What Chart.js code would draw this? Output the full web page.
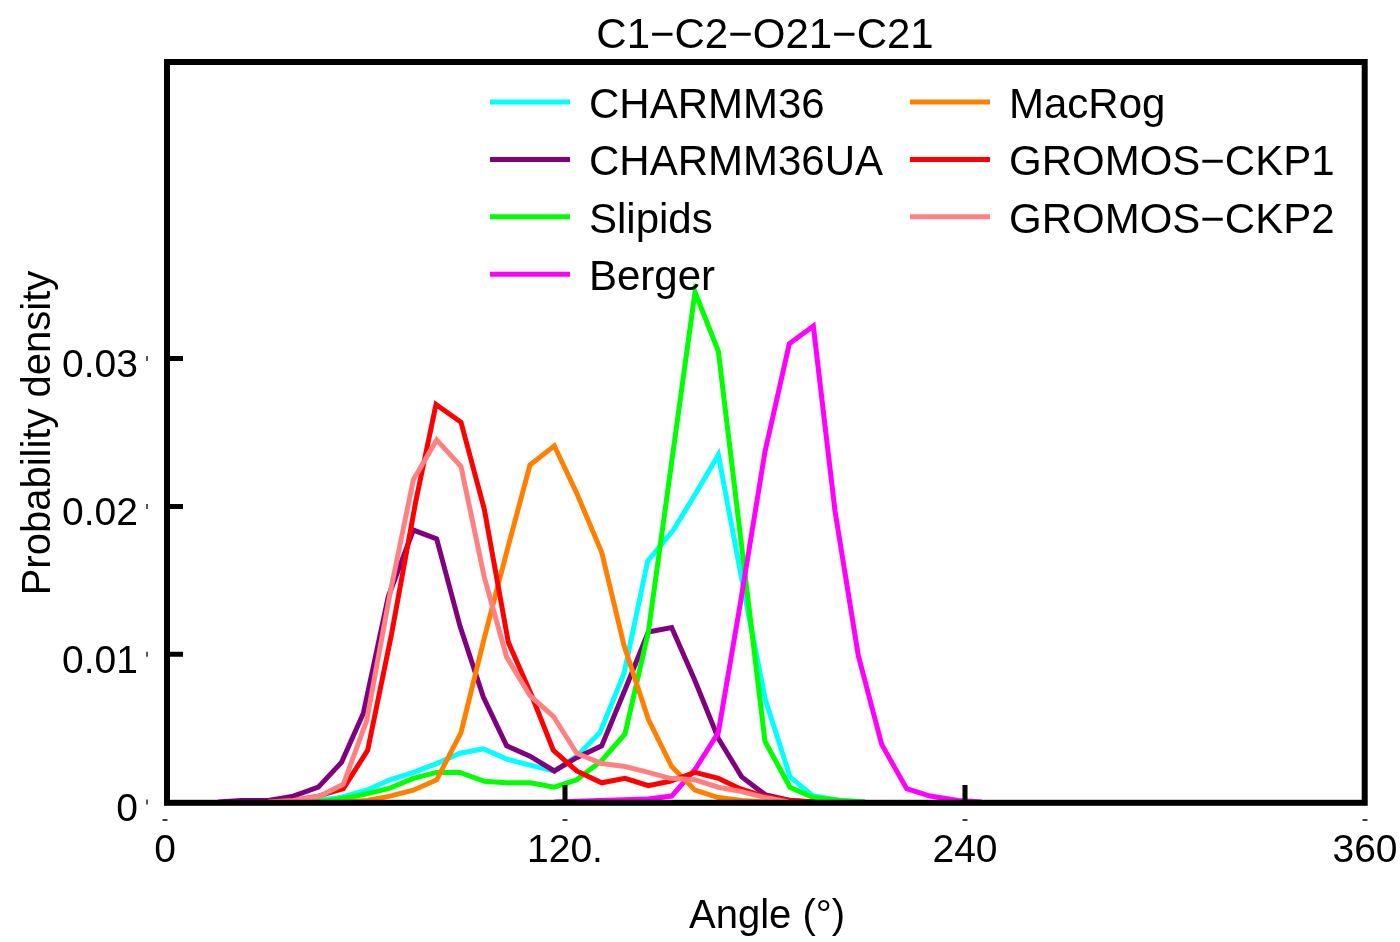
<!DOCTYPE html>
<html>
<head>
<meta charset="utf-8">
<script src="https://cdn.jsdelivr.net/npm/chart.js@4/dist/chart.umd.min.js"></script>
<style>
  html, body { margin: 0; padding: 0; background: #fff; }
  #wrap { width: 1400px; height: 942px; }
</style>
</head>
<body>
<div id="wrap"><canvas id="dihedralChart" width="1400" height="942"></canvas></div>
<script>
// C1-C2-O21-C21 dihedral distributions
const charmm36Angle = [38.5, 46, 52.5, 60.5, 67.5, 74.5, 81.5, 88.5, 95.5, 102.5, 109.5, 116.8, 123.5, 130.5, 137.7, 144.8, 152.5, 159, 166, 173, 180, 187.5, 194.5, 202.5, 210];
const charmm36Density = [0, 0.0001, 0.0003, 0.0008, 0.0015, 0.0020, 0.0026, 0.0033, 0.0036, 0.0029, 0.0025, 0.0021, 0.0031, 0.0047, 0.0087, 0.0163, 0.0184, 0.0208, 0.0235, 0.0151, 0.0070, 0.0017, 0.0004, 0.0001, 0];

const charmm36uaAngle = [16, 23, 31, 38.5, 46, 53, 59.5, 67, 74.5, 81.5, 88.5, 95.5, 102.5, 109.5, 116.8, 123.5, 131, 138, 145, 152, 159, 166, 173, 180, 187.5, 195];
const charmm36uaDensity = [0, 0.0001, 0.0001, 0.0004, 0.0010, 0.0027, 0.0060, 0.0139, 0.0184, 0.0178, 0.0119, 0.0071, 0.0038, 0.0031, 0.0021, 0.0030, 0.0038, 0.0076, 0.0115, 0.0118, 0.0082, 0.0043, 0.0017, 0.0005, 0.0001, 0];

const slipidsAngle = [42, 49.5, 57.5, 67, 74.5, 81.5, 88.5, 95.8, 102.5, 109.5, 116.8, 123.5, 131, 138, 145, 152, 159, 166, 173, 180, 187.5, 194.5, 202.5, 210];
const slipidsDensity = [0, 0.0001, 0.0004, 0.0009, 0.0016, 0.0020, 0.0020, 0.0014, 0.0013, 0.0013, 0.0010, 0.0015, 0.0028, 0.0046, 0.0115, 0.0230, 0.0345, 0.0305, 0.0173, 0.0041, 0.0010, 0.0003, 0.0001, 0];

const bergerAngle = [116.8, 130.5, 145, 152, 159, 166, 172.5, 180, 187.3, 194.5, 201, 208, 215, 222.5, 229.5, 238, 245];
const bergerDensity = [0, 0.0001, 0.0002, 0.0004, 0.0022, 0.0047, 0.0133, 0.0237, 0.0310, 0.0322, 0.0197, 0.0099, 0.0039, 0.0009, 0.0004, 0.0001, 0];

const macrogAngle = [53, 60.5, 67.5, 74.5, 81.5, 88.8, 95.8, 102.5, 109.5, 116.8, 123.5, 131, 137.7, 145, 152, 159, 166, 173, 180];
const macrogDensity = [0, 0.0001, 0.0004, 0.0008, 0.0015, 0.0047, 0.0111, 0.0169, 0.0228, 0.0241, 0.0209, 0.0169, 0.0106, 0.0056, 0.0024, 0.0008, 0.0003, 0.0001, 0];

const ckp1Angle = [31, 38.6, 46, 53.5, 60.8, 68, 75.2, 81.3, 88.8, 95.8, 103, 110, 116.5, 123.5, 131, 138, 145, 151.5, 159, 166, 172.5, 179.5, 187.5, 195];
const ckp1Density = [0, 0.0001, 0.0004, 0.0009, 0.0035, 0.0114, 0.0203, 0.0269, 0.0257, 0.0198, 0.0108, 0.0072, 0.0035, 0.0021, 0.0013, 0.0016, 0.0011, 0.0014, 0.0020, 0.0016, 0.0009, 0.0004, 0.0001, 0];

const ckp2Angle = [31, 38.6, 46.5, 53.5, 60.5, 67.5, 74.5, 81.5, 88.8, 95.8, 102.5, 109.5, 116.5, 123.5, 131, 138, 145, 151.5, 159, 166, 173, 180, 187];
const ckp2Density = [0, 0.0001, 0.0004, 0.0012, 0.0055, 0.0141, 0.0218, 0.0245, 0.0227, 0.0152, 0.0098, 0.0072, 0.0058, 0.0033, 0.0026, 0.0024, 0.0020, 0.0016, 0.0015, 0.0010, 0.0007, 0.0003, 0];

const seriesNames = ['CHARMM36', 'CHARMM36UA', 'Slipids', 'Berger', 'MacRog', 'GROMOS\u2212CKP1', 'GROMOS\u2212CKP2'];
const seriesColors = ['#00ffff', '#800080', '#00ff00', '#ff00ff', '#ff8000', '#ff0000', '#ff8080'];

const xTickValues = [0, 120, 240, 360];
const xTickLabels = ['0', '120.', '240', '360'];
const yTickValues = [0, 0.01, 0.02, 0.03];
const yTickLabels = ['0', '0.01', '0.02', '0.03'];

const FONT = '"Liberation Sans", Arial, Helvetica, sans-serif';

function toPoints(angles, dens) {
    return angles.map((a, i) => ({ x: a, y: dens[i] }));
}

const seriesData = [
    toPoints(charmm36Angle, charmm36Density),
    toPoints(charmm36uaAngle, charmm36uaDensity),
    toPoints(slipidsAngle, slipidsDensity),
    toPoints(bergerAngle, bergerDensity),
    toPoints(macrogAngle, macrogDensity),
    toPoints(ckp1Angle, ckp1Density),
    toPoints(ckp2Angle, ckp2Density)
];

const datasets = seriesData.map((pts, i) => ({
    label: seriesNames[i],
    data: pts,
    borderColor: seriesColors[i],
    backgroundColor: seriesColors[i],
    borderWidth: 5,
    pointRadius: 0,
    tension: 0,
    fill: false,
    borderJoinStyle: 'miter',
    order: seriesNames.length - i
}));

// frame, ticks, title, axis titles and the in-plot legend
const decorPlugin = {
    id: 'decor',
    afterDatasetsDraw(chart) {
        const ctx = chart.ctx;
        const x = chart.scales.x;
        const y = chart.scales.y;
        const area = chart.chartArea;
        ctx.save();

        // frame
        ctx.strokeStyle = '#000';
        ctx.lineWidth = 6;
        ctx.lineJoin = 'miter';
        ctx.strokeRect(167, 62, 1364.7 - 167, 802.8 - 62);

        // inner major ticks
        ctx.lineWidth = 5;
        ctx.beginPath();
        [120, 240].forEach(v => {
            const px = x.getPixelForValue(v);
            ctx.moveTo(px, area.bottom);
            ctx.lineTo(px, area.bottom - 17);
        });
        [0.01, 0.02, 0.03].forEach(v => {
            const py = y.getPixelForValue(v);
            ctx.moveTo(area.left, py);
            ctx.lineTo(area.left + 18, py);
        });
        ctx.stroke();

        // tiny outside marks
        ctx.lineWidth = 1.3;
        ctx.beginPath();
        xTickValues.forEach(v => {
            const px = x.getPixelForValue(v);
            ctx.moveTo(px - 2.5, 820);
            ctx.lineTo(px + 2.5, 820);
        });
        yTickValues.forEach(v => {
            const py = y.getPixelForValue(v);
            ctx.moveTo(147, py - 2.5);
            ctx.lineTo(147, py + 2.5);
        });
        ctx.stroke();

        ctx.fillStyle = '#000';
        ctx.textBaseline = 'alphabetic';

        // title
        ctx.font = '42px ' + FONT;
        ctx.textAlign = 'center';
        ctx.fillText('C1\u2212C2\u2212O21\u2212C21', 765, 48);

        // axis titles
        ctx.font = '40px ' + FONT;
        ctx.fillText('Angle (\u00b0)', 767, 928);
        ctx.save();
        ctx.translate(50, 433);
        ctx.rotate(-Math.PI / 2);
        ctx.fillText('Probability density', 0, 0);
        ctx.restore();

        // legend, two columns
        ctx.font = '42px ' + FONT;
        ctx.textAlign = 'left';
        chart.data.datasets.forEach((ds, i) => {
            const col = i < 4 ? 0 : 1;
            const row = i < 4 ? i : i - 4;
            const lx = col === 0 ? 490 : 910;
            const ly = 102 + row * 57.4;
            ctx.strokeStyle = ds.borderColor;
            ctx.lineWidth = 5;
            ctx.beginPath();
            ctx.moveTo(lx, ly);
            ctx.lineTo(lx + 80, ly);
            ctx.stroke();
            ctx.fillText(ds.label, lx + 99, ly + 16);
        });

        ctx.restore();
    }
};

const chart = new Chart(document.getElementById('dihedralChart').getContext('2d'), {
    type: 'line',
    data: { datasets: datasets },
    options: {
        responsive: false,
        animation: false,
        devicePixelRatio: 1,
        layout: { padding: { top: 63, right: 35, left: 0, bottom: 0 } },
        plugins: {
            legend: { display: false },
            title: { display: false },
            tooltip: { enabled: false }
        },
        scales: {
            x: {
                type: 'linear',
                min: 0,
                max: 360,
                afterBuildTicks: s => { s.ticks = xTickValues.map(v => ({ value: v })); },
                afterFit: s => {
                    s.height = 140;
                    s.paddingLeft = 0;
                    s.paddingRight = 0;
                },
                grid: { display: false, drawTicks: false },
                border: { display: false },
                ticks: {
                    color: '#000',
                    font: { family: FONT, size: 39 },
                    padding: 26,
                    maxRotation: 0,
                    autoSkip: false,
                    callback: (v, i) => xTickLabels[i]
                }
            },
            y: {
                type: 'linear',
                min: 0,
                max: 0.05,
                afterBuildTicks: s => { s.ticks = yTickValues.map(v => ({ value: v })); },
                afterFit: s => {
                    s.width = 165;
                    s.paddingTop = 0;
                    s.paddingBottom = 0;
                },
                grid: { display: false, drawTicks: false },
                border: { display: false },
                ticks: {
                    color: '#000',
                    font: { family: FONT, size: 39 },
                    padding: 27,
                    labelOffset: 8,
                    autoSkip: false,
                    callback: (v, i) => yTickLabels[i]
                }
            }
        }
    },
    plugins: [decorPlugin]
});
</script>
</body>
</html>
